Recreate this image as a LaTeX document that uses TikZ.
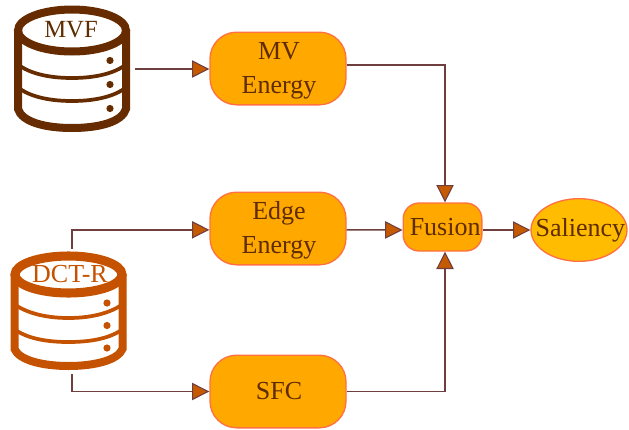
\documentclass[tikz,border=0pt]{standalone}
\usepackage{fontspec}
\setmainfont{Liberation Serif}
\usetikzlibrary{arrows.meta,shapes.geometric}
\definecolor{lbl}{HTML}{5F2C00}
\definecolor{dbA}{HTML}{662C00}
\definecolor{dbB}{HTML}{C55200}
\definecolor{boxf}{HTML}{FFA800}
\definecolor{boxd}{HTML}{FF7043}
\definecolor{elf}{HTML}{FFBC00}
\definecolor{conn}{HTML}{6F3F3F}
\definecolor{tip}{HTML}{C55A00}
\newcommand{\lift}{\rule{0pt}{16pt}}
\tikzset{
 x=0.75pt,y=-0.75pt,
 box/.style={draw=boxd,fill=boxf,line width=1pt,rounded corners=20pt,minimum width=102pt,minimum height=54.5pt,align=center,text=lbl,font=\fontsize{19.5}{25}\selectfont,inner sep=0pt},
 fus/.style={box,rounded corners=12pt,minimum width=59pt,minimum height=36pt},
 sal/.style={draw=boxd,fill=elf,line width=1pt,ellipse,minimum width=72pt,minimum height=47pt,text=lbl,font=\fontsize{19.5}{25}\selectfont,inner sep=0pt},
 conline/.style={draw=conn,line width=1.1pt,-{Triangle[length=13pt,width=13pt,fill=tip,line width=0.8pt]}},
 dbtext/.style={font=\fontsize{19.5}{22}\selectfont,inner sep=0pt},
 dbline/.style={line width=6pt,line cap=butt},
 dbthin/.style={line width=2.8pt},
}
\begin{document}
\begin{tikzpicture}
\useasboundingbox (0,0) rectangle (629,429);
% MVF database
\draw[draw=dbA,dbline] (72,30.5) ellipse [x radius=54,y radius=21];
\draw[draw=dbA,dbline] (18,30) -- (18,109) .. controls (22,122) and (45,128) .. (72,128) .. controls (99,128) and (122,122) .. (126,109) -- (126,30);
\draw[draw=dbA,dbthin] (20,66) .. controls (32,74) and (50,78) .. (72,78) .. controls (94,78) and (112,74) .. (124,66);
\draw[draw=dbA,dbthin] (20,89) .. controls (32,97) and (50,101) .. (72,101) .. controls (94,101) and (112,97) .. (124,89);
\fill[dbA] (110,60.5) circle (3.6) (110,84.5) circle (3.6) (110,108.5) circle (3.6);
\node[dbtext,text=lbl,font=\fontsize{18.5}{22}\selectfont] (mvf) at (71,30) {MVF};
% DCT-R database
\draw[draw=dbB,line width=6.8pt] (68.5,274.5) ellipse [x radius=53.5,y radius=18.5];
\draw[draw=dbB,dbline] (14.5,274) -- (14.5,349) .. controls (19,360) and (42,366) .. (68.5,366) .. controls (95,366) and (118,360) .. (122.5,349) -- (122.5,274);
\draw[draw=dbB,dbthin] (17,306) .. controls (30,314) and (48,318) .. (68.5,318) .. controls (89,318) and (107,314) .. (120,306);
\draw[draw=dbB,dbthin] (17,331) .. controls (30,339) and (48,342) .. (68.5,342) .. controls (89,342) and (107,339) .. (120,331);
\fill[dbB] (107,303) circle (3.6) (107,325.5) circle (3.6) (107,348) circle (3.6);
\node[dbtext,text=dbB] (dct) at (70,274) {DCT-R};
% Blocks
\node[box] (mv) at (278,68.5) {\lift\hspace*{1.5pt}MV\\\hspace*{1.5pt}Energy};
\node[box] (edge) at (278,228.5) {\lift\hspace*{1.5pt}Edge\\\hspace*{1.5pt}Energy};
\node[box] (sfc) at (278,391.5) {\hspace*{1.5pt}SFC};
\node[fus] (fusion) at (442.5,227) {\hspace*{4pt}Fusion};
\node[sal] (sali) at (579,230) {\makebox[0pt]{\hspace{2pt}Saliency}};
% Free ends
\coordinate (mvfout) at (135,69);
\coordinate (dcttop) at (72,249);
\coordinate (dctbot) at (72,374);
% Connectors
\draw[conline] (mvfout) -- (mv.west |- mvfout);
\draw[conline] (dcttop) |- ([yshift=-1pt]edge.west);
\draw[conline] (dctbot) |- (sfc.west);
\draw[conline] ([yshift=2.6pt]mv.east) -| ([xshift=1.9pt]fusion.north);
\draw[conline] ([yshift=-1pt]edge.east) -- ([yshift=-2.25pt]fusion.west);
\draw[conline] (sfc.east) -| ([xshift=1.9pt]fusion.south);
\draw[conline] ([yshift=-2.25pt]fusion.east) -- (sali.west);
\end{tikzpicture}
\end{document}
